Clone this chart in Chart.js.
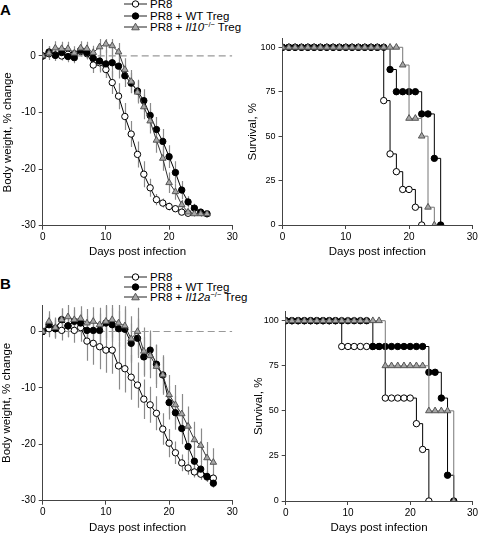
<!DOCTYPE html>
<html>
<head>
<meta charset="utf-8">
<script src="https://cdn.jsdelivr.net/npm/chart.js@4.4.1/dist/chart.umd.min.js"></script>
<style>
  body { margin: 0; background: #fff; width: 480px; height: 535px; position: relative; overflow: hidden;
         font-family: "Liberation Sans", Arial, sans-serif; color: #000; }
  canvas { position: absolute; }
  .tag { position: absolute; left: 0; font-weight: bold; font-size: 15px; line-height: 15px; }
  .row { position: absolute; left: 124px; height: 12px; white-space: nowrap; font-size: 11.5px; line-height: 12px; }
  .row svg { position: absolute; left: 0; top: 1px; }
  .row span { position: absolute; left: 26px; top: 0; }
  .row sup { font-size: 7.5px; vertical-align: 4px; line-height: 0; }
</style>
</head>
<body>
<div class="tag" style="top:2px">A</div>
<div class="tag" style="top:276px">B</div>
<div id="legA"></div>
<div id="legB"></div>
<canvas id="bwA"></canvas>
<canvas id="svA"></canvas>
<canvas id="bwB"></canvas>
<canvas id="svB"></canvas>
<script>
// ---- data ----
const xTicks = [0, 10, 20, 30];
const bwTicks = [-30, -20, -10, 0];
const svTicks = [0, 25, 50, 75, 100];

const legendA = ['PR8', 'PR8 + WT Treg', 'PR8 + <i>Il10</i><sup>\u2212/\u2212</sup> Treg'];
const legendB = ['PR8', 'PR8 + WT Treg', 'PR8 + <i>Il12a</i><sup>\u2212/\u2212</sup> Treg'];

// A, body weight (% change), day 0..
const bwA_pr8  = [0, 0.4, 0.2, 0, 0.3, 0.4, 0.8, 0.4, -1.6, -1.2, -2.4, -4.7, -7.1, -10.7, -13.8, -17.4, -20.9, -23.3, -25.4, -26.0, -26.6, -27.0, -27.6, -27.8];
const bwA_wt   = [0, 0.7, 0.1, 0.6, -0.1, -0.3, 1.0, 0.6, -0.4, -0.9, -1.4, -1.2, -1.8, -3.5, -4.8, -6.2, -7.9, -10.5, -13.0, -15.1, -17.8, -20.6, -23.7, -25.8, -26.9, -27.6, -27.9];
const bwA_il10 = [0, 0.5, 1.4, 1.3, 1.3, 0.5, 1.4, 1.3, 0.6, 1.6, 2.1, 1.8, 0.7, -2.4, -4.5, -6.4, -9.0, -11.5, -14.9, -18.1, -22.4, -24.0, -26.3, -27.6, -27.9, -27.9, -27.9];
const errA_pr8  = [0, 0.8, 0.8, 0.8, 0.8, 0.8, 0.9, 1.0, 1.4, 1.5, 1.5, 2.0, 2.3, 2.4, 2.3, 2.3, 2.3, 1.6, 1.0, 0.8, 0.7, 0.6, 0.5, 0.5];
const errA_wt   = [0, 1.0, 1.0, 1.2, 1.0, 1.0, 1.0, 1.2, 1.5, 2.0, 2.5, 2.5, 2.2, 2.0, 1.8, 2.0, 2.0, 2.2, 2.2, 2.2, 2.0, 2.0, 1.6, 1.0, 0.8, 0.6, 0.5];
const errA_il10 = [0, 1.2, 1.2, 1.2, 1.2, 1.2, 1.2, 1.2, 1.2, 1.4, 1.6, 1.6, 1.6, 2.0, 2.0, 2.0, 2.2, 2.2, 2.2, 2.2, 1.8, 1.4, 0.9, 0.6, 0.5, 0.5, 0.5];

// A, survival (%), day 0..
const svA_pr8  = [100, 100, 100, 100, 100, 100, 100, 100, 100, 100, 100, 100, 100, 100, 100, 100, 70, 40, 30, 20, 20, 10, 0];
const svA_wt   = [100, 100, 100, 100, 100, 100, 100, 100, 100, 100, 100, 100, 100, 100, 100, 100, 100, 87.5, 75, 75, 75, 75, 62.5, 62.5, 37.5, 0];
const svA_il10 = [100, 100, 100, 100, 100, 100, 100, 100, 100, 100, 100, 100, 100, 100, 100, 100, 100, 100, 100, 90, 60, 60, 50, 10, 0];

// B, body weight (% change), day 0..
const bwB_pr8  = [0, 0.5, 0.5, 0.2, 1.0, 0.2, 0.7, -1.7, -2.1, -2.7, -3.3, -3.3, -6.1, -6.6, -8.1, -9.5, -12.0, -13.0, -14.5, -17.3, -19.8, -21.5, -23.3, -24.2, -24.9, -25.3, -25.8, -26.0];
const bwB_wt   = [0, 1.2, 0.5, 2.1, 1.0, 1.8, 1.5, 0.2, 0.2, 0.2, 1.5, 1.2, 0.5, 0.4, -2.1, -1.2, -4.5, -3.3, -5.8, -7.7, -12.6, -14.4, -17.2, -20.4, -23.0, -24.4, -25.7, -26.9];
const bwB_il12 = [0, 1.8, 0.7, 2.1, 2.6, 2.1, 2.3, 1.5, 1.8, 1.2, 1.8, 2.1, 1.5, 1.0, -1.3, 0.0, -3.5, -4.3, -6.2, -7.7, -11.2, -13.0, -14.6, -16.8, -19.2, -20.2, -22.4, -23.2];
const errB_pr8  = [0, 1.5, 1.5, 1.8, 2.0, 2.2, 2.5, 3.5, 3.8, 4.0, 4.0, 4.2, 4.2, 4.2, 4.0, 4.0, 3.5, 3.2, 3.0, 2.8, 2.5, 2.0, 1.5, 1.2, 1.0, 1.0, 0.8, 0.8];
const errB_wt   = [0, 1.8, 1.8, 2.0, 2.0, 2.0, 2.2, 2.5, 2.5, 3.0, 3.0, 3.0, 3.2, 3.5, 3.5, 3.5, 3.5, 3.5, 3.5, 3.2, 3.0, 3.0, 2.8, 2.5, 2.0, 1.5, 1.0, 0.8];
const errB_il12 = [0, 1.8, 1.8, 2.0, 2.2, 2.2, 2.2, 2.5, 2.5, 3.0, 3.0, 3.2, 3.2, 3.5, 4.0, 4.2, 4.2, 4.0, 3.8, 3.5, 3.5, 3.5, 3.5, 3.5, 3.2, 3.0, 2.8, 2.5];

// B, survival (%), day 0..
const svB_pr8  = [100, 100, 100, 100, 100, 100, 100, 100, 100, 85.7, 85.7, 85.7, 85.7, 85.7, 85.7, 85.7, 57.1, 57.1, 57.1, 57.1, 57.1, 42.9, 28.6, 0];
const svB_wt   = [100, 100, 100, 100, 100, 100, 100, 100, 100, 100, 100, 100, 100, 100, 85.7, 85.7, 85.7, 85.7, 85.7, 85.7, 85.7, 85.7, 85.7, 71.4, 71.4, 57.1, 14.3, 0];
const svB_il12 = [100, 100, 100, 100, 100, 100, 100, 100, 100, 100, 100, 100, 100, 100, 100, 100, 75, 75, 75, 75, 75, 75, 75, 50, 50, 50, 50, 0];

// ---- styling ----
Chart.defaults.font.family = '"Liberation Sans", Arial, sans-serif';
Chart.defaults.color = '#000';
const AXIS = '#444';
const BAR = '#8a8a8a';
const TRI = '#a6a6a6';

function pts(vals) { return vals.map((v, i) => ({ x: i, y: v })); }

const styles = {
  pr8:  { pointStyle: 'circle', pointRadius: 3.2, pointBackgroundColor: '#fff', pointBorderColor: '#000', borderColor: '#000', order: 3 },
  wt:   { pointStyle: 'circle', pointRadius: 3.2, pointBackgroundColor: '#000', pointBorderColor: '#000', borderColor: '#000', order: 2 },
  ko:   { pointStyle: 'triangle', pointRadius: 3.8, pointBackgroundColor: TRI, pointBorderColor: '#555', borderColor: '#333', order: 1 }
};

function series(kind, vals, err, extra) {
  return Object.assign({ data: pts(vals), err: err, borderWidth: 1, pointBorderWidth: 1, fill: false, tension: 0 }, styles[kind], extra || {});
}

function zeroLine() {
  return { data: [{ x: 0, y: 0 }, { x: 30, y: 0 }], borderColor: '#999', borderWidth: 1.2, borderDash: [7, 4],
           pointRadius: 0, fill: false, order: 9 };
}

// vertical error bars from each dataset's err array
const errorBars = {
  id: 'errorBars',
  beforeDatasetsDraw(chart) {
    const { ctx, chartArea, scales } = chart;
    ctx.save();
    ctx.beginPath();
    ctx.rect(chartArea.left, chartArea.top, chartArea.right - chartArea.left, chartArea.bottom - chartArea.top);
    ctx.clip();
    ctx.strokeStyle = BAR;
    ctx.lineWidth = 1.2;
    chart.data.datasets.forEach(ds => {
      if (!ds.err) return;
      ds.data.forEach((p, i) => {
        const e = ds.err[i];
        if (!e) return;
        const px = Math.round(scales.x.getPixelForValue(p.x)) + 0.5;
        ctx.beginPath();
        ctx.moveTo(px, scales.y.getPixelForValue(p.y - e));
        ctx.lineTo(px, scales.y.getPixelForValue(p.y + e));
        ctx.stroke();
      });
    });
    ctx.restore();
  }
};

// c: canvas box, p: plot box, xt: centre y of x title, yt: centre x of y title
function build(id, c, p, xt, yt, yMin, yMax, yTicks, yTitle, yTickSize, datasets) {
  const cv = document.getElementById(id);
  cv.width = c.w; cv.height = c.h;
  cv.style.left = c.x + 'px'; cv.style.top = c.y + 'px';
  const lh = 11.5 * 1.2;
  const titleBottom = xt + lh / 2;
  new Chart(cv, {
    type: 'line',
    data: { datasets: datasets },
    options: {
      responsive: false,
      animation: false,
      layout: { padding: { left: 0, top: p.t - c.y, right: c.x + c.w - p.r, bottom: c.y + c.h - titleBottom } },
      plugins: { legend: { display: false }, tooltip: { enabled: false } },
      scales: {
        x: {
          type: 'linear', min: 0, max: 30,
          afterBuildTicks: s => { s.ticks = xTicks.map(v => ({ value: v })); },
          afterFit: s => { s.height = titleBottom - p.b; },
          grid: { drawOnChartArea: false, drawTicks: true, tickLength: 4, color: AXIS },
          border: { color: AXIS, width: 1 },
          ticks: { font: { size: 10 }, color: '#000', padding: 2, maxRotation: 0 },
          title: { display: true, text: 'Days post infection', font: { size: 11.5 }, color: '#000', padding: 0 }
        },
        y: {
          type: 'linear', min: yMin, max: yMax,
          afterBuildTicks: s => { s.ticks = yTicks.map(v => ({ value: v })); },
          afterFit: s => { s.width = p.l - c.x; },
          grid: { drawOnChartArea: false, drawTicks: true, tickLength: 4, color: AXIS },
          border: { color: AXIS, width: 1 },
          ticks: { font: { size: yTickSize }, color: '#000', padding: 3 },
          title: { display: true, text: yTitle, font: { size: 11.5 }, color: '#000', padding: { top: yt - c.x - lh / 2, bottom: 0 } }
        }
      }
    },
    plugins: [errorBars]
  });
}

function legend(id, labels, top) {
  const keys = [
    '<circle cx="11.5" cy="5" r="3.2" fill="#fff" stroke="#000"/>',
    '<circle cx="11.5" cy="5" r="3.2" fill="#000" stroke="#000"/>',
    '<path d="M11.5 1.2 L15.3 7.8 L7.7 7.8 Z" fill="' + TRI + '" stroke="#555"/>'
  ];
  const el = document.getElementById(id);
  el.innerHTML = labels.map((t, i) =>
    '<div class="row" style="top:' + (top[i] - 6) + 'px"><svg width="24" height="10">' +
    '<line x1="0" y1="5" x2="23" y2="5" stroke="#222" stroke-width="1"/>' + keys[i] +
    '</svg><span>' + t + '</span></div>').join('');
}

legend('legA', legendA, [4, 15.5, 27]);
legend('legB', legendB, [276.5, 286.5, 296.5]);

build('bwA', { x: 0, y: 30, w: 240, h: 235 }, { l: 42.7, t: 35, r: 232.3, b: 225.7 }, 251.7, 7.7,
  -30, 3, bwTicks, 'Body weight, % change', 10, [
    series('ko', bwA_il10, errA_il10),
    series('wt', bwA_wt, errA_wt),
    series('pr8', bwA_pr8, errA_pr8),
    zeroLine()
  ]);

build('svA', { x: 240, y: 30, w: 240, h: 235 }, { l: 282.5, t: 35, r: 472.3, b: 225 }, 251.7, 253,
  0, 105, svTicks, 'Survival, %', 9, [
    series('ko', svA_il10, null, { stepped: true, borderColor: '#777' }),
    series('wt', svA_wt, null, { stepped: true }),
    series('pr8', svA_pr8, null, { stepped: true })
  ]);

build('bwB', { x: 0, y: 296, w: 240, h: 239 }, { l: 42.7, t: 301.7, r: 232.3, b: 500.7 }, 527.7, 6.9,
  -30, 4.7, bwTicks, 'Body weight, % change', 10, [
    series('ko', bwB_il12, errB_il12),
    series('wt', bwB_wt, errB_wt),
    series('pr8', bwB_pr8, errB_pr8),
    zeroLine()
  ]);

build('svB', { x: 240, y: 300, w: 240, h: 235 }, { l: 285.7, t: 311.7, r: 475.7, b: 501 }, 528.3, 259,
  0, 105, svTicks, 'Survival, %', 9, [
    series('ko', svB_il12, null, { stepped: true, borderColor: '#777' }),
    series('wt', svB_wt, null, { stepped: true }),
    series('pr8', svB_pr8, null, { stepped: true })
  ]);
</script>
</body>
</html>
